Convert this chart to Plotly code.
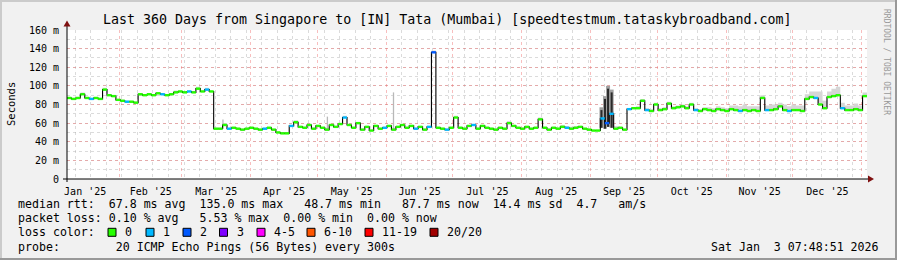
import plotly.graph_objects as go
import pandas as pd

# ---------------- data ----------------
TITLE = "Last 360 Days from Singapore to [IN] Tata (Mumbai) [speedtestmum.tataskybroadband.com]"
START = "2025-01-08 07:48:51"
END = "2026-01-03 07:48:51"
STEP_DAYS = 2

median_ms = [
    87, 86, 87, 91, 87, 86, 87, 86, 96, 90,
    89, 85, 84, 83, 83, 82, 91, 90, 91, 90,
    92, 91, 90, 91, 93, 94, 93, 94, 93, 97,
    94, 96, 94, 54, 54, 58, 54, 55, 54, 53,
    54, 55, 54, 53, 54, 55, 53, 50, 49, 49,
    57, 61, 56, 55, 58, 54, 57, 55, 53, 58,
    56, 59, 66, 58, 55, 60, 53, 56, 52, 57,
    54, 55, 57, 53, 56, 58, 55, 57, 54, 56,
    53, 56, 136, 55, 54, 53, 55, 66, 55, 54,
    57, 58, 54, 57, 55, 54, 53, 55, 54, 60,
    57, 55, 54, 56, 54, 55, 64, 55, 53, 55,
    54, 56, 55, 54, 55, 56, 54, 53, 52, 52,
    65, 60, 70, 54, 55, 53, 75, 76, 76, 84,
    74, 73, 80, 74, 75, 81, 76, 77, 78, 76,
    80, 74, 73, 75, 74, 73, 75, 74, 73, 75,
    74, 73, 74, 73, 74, 73, 87, 74, 74, 75,
    78, 74, 73, 74, 74, 73, 86, 88, 87, 80,
    76, 88, 89, 90, 76, 74, 74, 75, 74, 89,
]

smoke_up_ms = [
    1, 1, 1, 2, 1, 1, 1, 1, 2, 1,
    1, 1, 1, 1, 1, 1, 1, 1, 1, 1,
    1, 1, 1, 1, 2, 1, 1, 1, 1, 2,
    1, 2, 1, 1, 1, 2, 1, 1, 1, 1,
    1, 1, 1, 1, 1, 1, 1, 1, 1, 1,
    1, 2, 1, 1, 1, 1, 1, 1, 2, 1,
    1, 1, 2, 1, 1, 1, 1, 1, 1, 1,
    1, 1, 1, 2, 1, 1, 1, 1, 1, 1,
    1, 1, 2, 1, 1, 1, 1, 2, 1, 1,
    1, 1, 1, 1, 1, 1, 1, 1, 1, 2,
    1, 1, 1, 1, 1, 1, 2, 1, 1, 1,
    1, 2, 2, 2, 2, 1, 1, 1, 1, 1,
    3, 3, 3, 3, 1, 1, 1, 1, 2, 2,
    2, 2, 2, 2, 2, 2, 2, 2, 2, 2,
    2, 2, 2, 2, 3, 3, 3, 3, 3, 4,
    5, 5, 6, 5, 4, 5, 3, 5, 6, 5,
    4, 6, 5, 6, 5, 6, 5, 6, 7, 14,
    8, 6, 8, 9, 6, 5, 5, 6, 5, 4,
]

loss_bucket = [
    0, 0, 0, 0, 0, 1, 0, 0, 0, 0,
    0, 0, 0, 1, 0, 0, 0, 0, 0, 0,
    0, 1, 0, 0, 0, 0, 0, 1, 0, 0,
    0, 1, 0, 0, 0, 0, 1, 0, 0, 0,
    0, 0, 0, 0, 1, 0, 0, 0, 0, 0,
    1, 0, 0, 0, 0, 0, 0, 0, 0, 0,
    0, 0, 1, 0, 0, 0, 0, 0, 0, 0,
    0, 1, 0, 0, 0, 0, 0, 0, 1, 0,
    0, 1, 2, 0, 0, 1, 0, 0, 0, 0,
    0, 1, 0, 0, 0, 0, 0, 0, 0, 0,
    0, 0, 0, 0, 0, 0, 0, 0, 0, 0,
    0, 0, 1, 0, 0, 0, 0, 0, 0, 0,
    1, 2, 1, 0, 0, 0, 1, 0, 0, 0,
    1, 0, 0, 0, 0, 0, 0, 0, 0, 0,
    0, 1, 0, 0, 0, 0, 0, 0, 0, 0,
    0, 1, 0, 0, 0, 0, 0, 1, 0, 0,
    0, 0, 1, 0, 0, 0, 0, 0, 1, 0,
    0, 0, 0, 0, 1, 0, 0, 0, 0, 0,
]

# isolated thin smoke spikes (light grey)
light_spike_date = ["2025-03-19 12:00", "2025-05-05 12:00", "2025-06-04 06:00"]
light_spike_low_ms = [54, 53, 53]
light_spike_top_ms = [64, 67, 93]

# dark smoke spikes in early September
dark_spike_date = ["2025-09-05 20:00", "2025-09-07 10:00", "2025-09-08 19:00", "2025-09-10 10:00"]
dark_spike_low_ms = [55, 54, 56, 55]
dark_spike_top_ms = [74, 86, 97, 93]

y_tick_vals = [0, 20, 40, 60, 80, 100, 120, 140, 160]
y_tick_text = ["0", "20 m", "40 m", "60 m", "80 m", "100 m", "120 m", "140 m", "160 m"]

legend_rtt = "median rtt:  67.8 ms avg  135.0 ms max   48.7 ms min   87.7 ms now  14.4 ms sd  4.7   am/s"
legend_loss = "packet loss: 0.10 % avg   5.53 % max  0.00 % min  0.00 % now"
loss_labels = ["0", "1", "2", "3", "4-5", "6-10", "11-19", "20/20"]
loss_colors = ["#26ff00", "#00b8ff", "#0059ff", "#7e00ff", "#ff00ff", "#ff5500", "#ff0000", "#a10000"]
probe_text = "probe:        20 ICMP Echo Pings (56 Bytes) every 300s"
stamp_text = "Sat Jan  3 07:48:51 2026"
watermark = "RRDTOOL / TOBI OETIKER"

# ---------------- geometry (pixels) ----------------
W, H = 897, 260
PL, PR, PT, PB = 67, 867, 30, 179
MONO = "DejaVu Sans Mono"


def px(x):
    return (x - PL) / (PR - PL)


def py(y):
    return (PB - y) / (PB - PT)


n = len(median_ms)
t = pd.date_range(START, periods=n + 1, freq=f"{STEP_DAYS}D")

fig = go.Figure()

# light smoke band
med_ext = median_ms + [median_ms[-1]]
top_ext = [m + s for m, s in zip(median_ms, smoke_up_ms)] + [median_ms[-1] + smoke_up_ms[-1]]
fig.add_trace(go.Scatter(x=t, y=med_ext, mode="lines", line=dict(width=0, shape="hv"),
                         hoverinfo="skip", showlegend=False))
fig.add_trace(go.Scatter(x=t, y=top_ext, mode="lines", line=dict(width=0, shape="hv"),
                         fill="tonexty", fillcolor="#d6d6d6", hoverinfo="skip", showlegend=False))


def spikes(dates, lows, tops):
    xs, ys = [], []
    for d, lo, hi in zip(dates, lows, tops):
        xs += [d, d, None]
        ys += [lo, hi, None]
    return xs, ys


xs, ys = spikes(light_spike_date, light_spike_low_ms, light_spike_top_ms)
fig.add_trace(go.Scatter(x=xs, y=ys, mode="lines", line=dict(color="#b8b8b8", width=1.3),
                         hoverinfo="skip", showlegend=False))

xs, ys = spikes(dark_spike_date, dark_spike_low_ms, [v + 3 for v in dark_spike_top_ms])
fig.add_trace(go.Scatter(x=xs, y=ys, mode="lines", line=dict(color="#a0a0a0", width=4),
                         hoverinfo="skip", showlegend=False))
xs, ys = spikes(dark_spike_date, dark_spike_low_ms, dark_spike_top_ms)
fig.add_trace(go.Scatter(x=xs, y=ys, mode="lines", line=dict(color="#2a2a2a", width=2),
                         hoverinfo="skip", showlegend=False))

# black median step line
fig.add_trace(go.Scatter(x=t, y=med_ext, mode="lines", line=dict(color="#000000", width=1.1, shape="hv"),
                         hoverinfo="skip", showlegend=False))

# coloured median segments per loss bucket
for b, col in enumerate(loss_colors):
    xs, ys = [], []
    for i in range(n):
        if loss_bucket[i] == b:
            xs += [t[i], t[i + 1], None]
            ys += [median_ms[i], median_ms[i], None]
    if xs:
        fig.add_trace(go.Scatter(x=xs, y=ys, mode="lines", line=dict(color=col, width=2.4),
                                 hoverinfo="skip", showlegend=False))

shapes = []
annotations = []

# frame shading
shapes += [
    dict(type="rect", xref="paper", yref="paper", x0=px(0), x1=px(W), y0=py(0), y1=py(2),
         fillcolor="#cbcbcb", line=dict(width=0), layer="above"),
    dict(type="rect", xref="paper", yref="paper", x0=px(0), x1=px(2), y0=py(0), y1=py(H),
         fillcolor="#cbcbcb", line=dict(width=0), layer="above"),
    dict(type="rect", xref="paper", yref="paper", x0=px(0), x1=px(W), y0=py(H - 2), y1=py(H),
         fillcolor="#999999", line=dict(width=0), layer="above"),
    dict(type="rect", xref="paper", yref="paper", x0=px(W - 2), x1=px(W), y0=py(0), y1=py(H),
         fillcolor="#999999", line=dict(width=0), layer="above"),
]

# axes and arrows
shapes += [
    dict(type="line", xref="paper", yref="paper", x0=px(67), x1=px(67), y0=py(182), y1=py(25),
         line=dict(color="#000000", width=1), layer="above"),
    dict(type="line", xref="paper", yref="paper", x0=px(63), x1=px(869), y0=py(179), y1=py(179),
         line=dict(color="#000000", width=1), layer="above"),
    dict(type="path", xref="paper", yref="paper",
         path=f"M {px(63.5)} {py(26.5)} L {px(70.5)} {py(26.5)} L {px(67)} {py(20.5)} Z",
         fillcolor="#7f1010", line=dict(width=0), layer="above"),
    dict(type="path", xref="paper", yref="paper",
         path=f"M {px(868)} {py(175.5)} L {px(868)} {py(182.5)} L {px(874)} {py(179)} Z",
         fillcolor="#7f1010", line=dict(width=0), layer="above"),
]

# title
annotations.append(dict(text=TITLE, xref="paper", yref="paper", x=px(447), y=py(19),
                        xanchor="center", yanchor="middle", showarrow=False,
                        font=dict(family=MONO, size=13.3, color="#000000")))
# y title
annotations.append(dict(text="Seconds", xref="paper", yref="paper", x=px(11), y=py(104),
                        xanchor="center", yanchor="middle", textangle=-90, showarrow=False,
                        font=dict(family=MONO, size=10.5, color="#000000")))
# watermark
annotations.append(dict(text=watermark, xref="paper", yref="paper", x=px(887), y=py(62),
                        xanchor="center", yanchor="middle", textangle=90, showarrow=False,
                        font=dict(family=MONO, size=8, color="#999999")))

# legend lines
LEG = 11.6
for txt, yy in [(legend_rtt, 204), (legend_loss, 218.3), ("loss color:", 232.3), (probe_text, 246.7)]:
    annotations.append(dict(text=txt, xref="paper", yref="paper", x=px(16), y=py(yy),
                            xanchor="left", yanchor="middle", showarrow=False,
                            font=dict(family=MONO, size=LEG, color="#000000")))
annotations.append(dict(text=stamp_text, xref="paper", yref="paper", x=px(880.5), y=py(246.7),
                        xanchor="right", yanchor="middle", showarrow=False,
                        font=dict(family=MONO, size=LEG, color="#000000")))

# loss colour boxes
box_x = [108, 146, 183, 219.5, 257, 307, 365, 430]
for bx, lab, col in zip(box_x, loss_labels, loss_colors):
    shapes.append(dict(type="rect", xref="paper", yref="paper", x0=px(bx), x1=px(bx + 8),
                       y0=py(236.3), y1=py(228.3), fillcolor=col,
                       line=dict(color="#000000", width=1), layer="above"))
    annotations.append(dict(text=lab, xref="paper", yref="paper", x=px(bx + 15), y=py(232.3),
                            xanchor="left", yanchor="middle", showarrow=False,
                            font=dict(family=MONO, size=LEG, color="#000000")))

MAJOR = "rgba(240,110,110,0.45)"
MINOR = "rgba(165,165,165,0.40)"
fig.update_layout(
    width=W, height=H,
    margin=dict(l=PL, r=W - PR, t=PT, b=H - PB, pad=0),
    paper_bgcolor="#f1f1f1",
    plot_bgcolor="#ffffff",
    shapes=shapes,
    annotations=annotations,
    showlegend=False,
    xaxis=dict(
        type="date",
        range=[START, END],
        tick0="2025-01-01", dtick="M1",
        ticklabelmode="period",
        tickformat="%b '%y",
        ticks="outside", ticklen=3, tickcolor="rgba(0,0,0,0)",
        showgrid=True, gridcolor=MAJOR, griddash="dot", gridwidth=1,
        minor=dict(tick0="2025-01-12", dtick=7 * 86400000, showgrid=True,
                   gridcolor=MINOR, griddash="dot", gridwidth=1),
        zeroline=False, showline=False,
        tickfont=dict(family=MONO, size=10, color="#000000"),
        fixedrange=True,
    ),
    yaxis=dict(
        range=[0, 160],
        tickvals=y_tick_vals, ticktext=y_tick_text,
        ticks="outside", ticklen=5, tickcolor="rgba(0,0,0,0)",
        showgrid=True, gridcolor=MAJOR, griddash="dot", gridwidth=1,
        minor=dict(dtick=10, showgrid=True, gridcolor=MINOR, griddash="dot", gridwidth=1),
        zeroline=False, showline=False,
        tickfont=dict(family=MONO, size=10, color="#000000"),
        fixedrange=True,
    ),
)

fig.write_html("out.html")
